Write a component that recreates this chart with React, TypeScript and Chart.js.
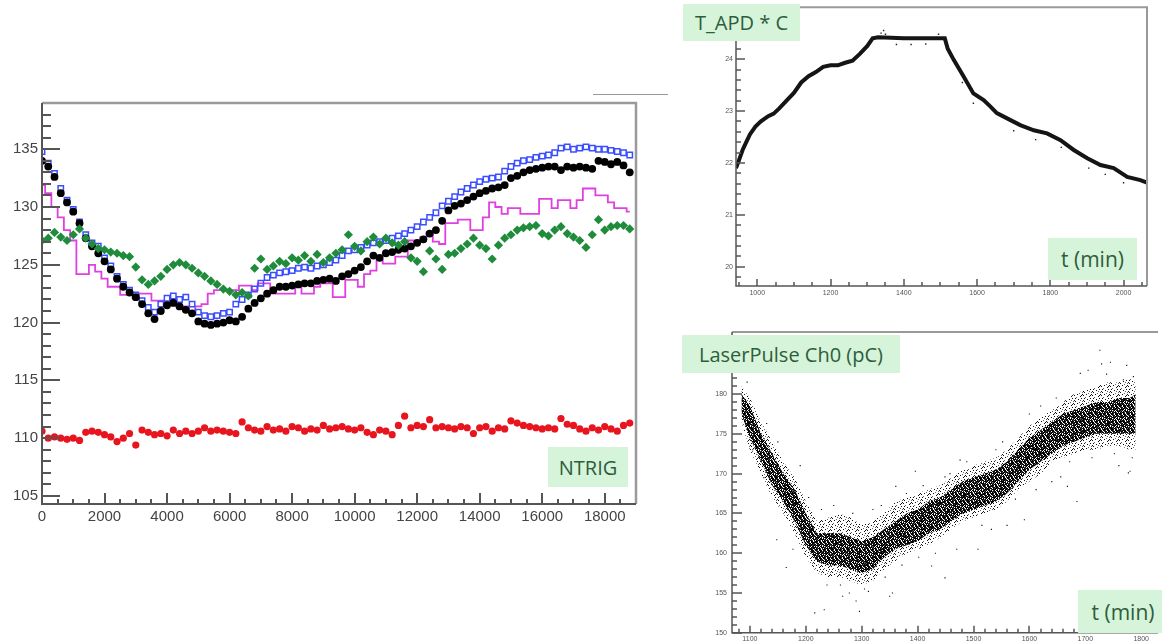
import React, { useEffect, useRef } from 'react';
import { Chart, registerables } from 'chart.js';
Chart.register(...registerables);

// ---------- Left chart (NTRIG) ----------
const BIN = 200; // sample spacing on x
const leftXTicks = [0, 2000, 4000, 6000, 8000, 10000, 12000, 14000, 16000, 18000];
const leftYTicks = [105, 110, 115, 120, 125, 130, 135];

const blackVals = [
  134.0, 133.5, 132.6, 131.2, 130.4, 129.6, 128.6, 127.3, 126.6, 126.0,
  125.3, 124.6, 123.8, 123.1, 122.6, 122.2, 121.6, 120.8, 120.3, 121.0,
  121.5, 121.7, 121.4, 121.1, 120.8, 120.1, 119.9, 119.8, 119.9, 120.0,
  120.2, 120.1, 120.5, 121.2, 121.7, 122.1, 122.5, 122.8, 123.1, 123.1,
  123.2, 123.3, 123.4, 123.4, 123.6, 123.7, 123.8, 123.6, 124.0, 124.2,
  124.5, 124.8, 125.3, 125.8, 125.6, 126.0, 126.1, 126.3, 126.4, 126.6,
  126.9, 127.2, 127.7, 128.0, 128.8, 129.7, 130.1, 130.3, 130.6, 130.9,
  131.2, 131.4, 131.6, 131.7, 131.9, 132.5, 132.7, 133.0, 133.2, 133.3,
  133.4, 133.5, 133.5, 133.2, 133.5, 133.4, 133.5, 133.4, 133.3, 134.0,
  133.9, 133.7, 133.9, 133.6, 133.0,
];
const blueVals = [
  134.8, 133.8, 132.9, 131.6, 130.6, 129.8, 128.7, 127.6, 126.9, 126.6,
  125.6, 124.9, 124.0, 123.3, 122.8, 122.4, 121.9, 121.3, 120.9, 121.6,
  122.1, 122.3, 122.0, 122.2, 121.6, 120.9, 120.6, 120.5, 120.6, 120.8,
  120.9, 121.6, 122.0, 122.4, 122.9, 123.4, 123.9, 124.1, 124.3, 124.4,
  124.5, 124.7, 124.8, 124.7, 124.9, 125.0, 125.2, 125.4, 125.8, 126.2,
  126.3, 126.5, 126.7, 126.9, 127.0, 127.1, 127.3, 127.5, 127.7, 128.0,
  128.3, 128.7, 129.1, 129.5, 130.1, 130.5, 130.9, 131.3, 131.6, 131.9,
  132.2, 132.4, 132.5, 132.6, 133.1, 133.5, 133.8, 134.0, 134.1, 134.3,
  134.4, 134.5, 134.7, 135.1, 135.2, 135.0, 135.1, 135.2, 135.1, 135.0,
  135.0, 134.9, 134.8, 134.7, 134.5,
];
const magentaVals = [
  131.9, 131.2, 130.0, 129.1, 128.0, 127.1, 124.2, 124.2, 125.0, 124.4,
  123.8, 123.1, 123.1, 122.4, 122.4, 122.1, 122.5, 122.5, 121.9, 121.9,
  121.6, 122.0, 121.4, 121.4, 120.9, 121.4, 121.6, 122.5, 122.8, 122.8,
  122.8, 122.8, 123.2, 123.2, 122.8, 123.4, 123.4, 122.5, 122.5, 122.5,
  122.5, 123.1, 122.5, 122.5, 123.1, 123.4, 123.4, 122.2, 122.2, 123.7,
  123.7, 123.1, 124.2, 124.5, 125.4, 125.1, 125.1, 125.7, 125.7, 127.1,
  127.0, 127.4, 127.8, 127.0, 126.8, 128.6, 128.6, 128.9, 128.9, 128.0,
  128.0, 129.1, 130.4, 130.0, 129.4, 129.9, 129.9, 129.4, 129.4, 129.4,
  130.7, 130.7, 129.9, 130.6, 130.6, 129.9, 130.6, 131.6, 131.6, 131.0,
  131.0, 130.4, 129.9, 129.9, 129.6,
];
const greenVals = [
  127.1, 127.3, 127.8, 127.4, 127.1, 127.6, 128.1, 127.3, 126.8, 126.4,
  126.3, 126.1, 126.0, 125.8, 125.7, 124.8, 123.7, 123.3, 123.6, 124.0,
  124.6, 125.0, 125.2, 125.0, 124.7, 124.3, 124.0, 123.6, 123.3, 122.9,
  122.7, 122.4, 122.6, 122.3, 124.7, 125.5, 124.6, 124.9, 125.3, 125.1,
  125.6, 125.4, 125.8, 125.3, 125.9, 125.2, 125.6, 126.0, 126.3, 127.6,
  126.6, 126.2, 127.0, 127.4, 126.8, 127.3, 126.9, 126.7, 127.0, 125.6,
  125.3, 124.4, 126.2, 125.5, 124.6, 125.9, 126.0, 126.4, 126.8, 127.3,
  126.7, 126.4, 125.5, 126.7, 127.3, 127.6, 128.0, 128.2, 128.3, 128.4,
  127.7, 127.5, 128.0, 128.3, 127.7, 127.4, 127.1, 126.5, 127.6, 128.9,
  128.0, 128.3, 128.4, 128.4, 128.1,
];
const redVals = [
  110.6, 110.0, 110.1, 110.0, 109.9, 110.0, 109.8, 110.5, 110.6, 110.5,
  110.3, 110.1, 109.7, 110.0, 110.4, 109.4, 110.7, 110.5, 110.3, 110.4,
  110.2, 110.7, 110.4, 110.6, 110.4, 110.6, 110.9, 110.6, 110.7, 110.6,
  110.5, 110.4, 111.4, 110.9, 110.7, 110.6, 111.0, 110.7, 110.8, 110.6,
  111.0, 110.9, 110.6, 110.8, 110.7, 111.1, 110.8, 110.9, 111.0, 110.8,
  110.7, 110.9, 110.5, 110.3, 110.7, 110.6, 110.3, 111.1, 111.9, 110.9,
  111.1, 111.0, 111.6, 110.9, 111.0, 110.9, 110.8, 111.0, 110.9, 110.4,
  110.9, 111.0, 110.6, 110.9, 110.8, 111.5, 111.3, 111.1, 111.0, 110.9,
  110.8, 110.9, 110.8, 111.7, 111.2, 111.1, 110.8, 110.6, 110.9, 110.7,
  111.0, 110.8, 110.6, 111.1, 111.3,
];

// ---------- Top-right chart (T_APD) ----------
const tempXTicks = [1000, 1200, 1400, 1600, 1800, 2000];
const tempYTicks = [20, 21, 22, 23, 24];
const tempX = [
  942, 950, 960, 970, 980, 995, 1010, 1030, 1045, 1060, 1080, 1100, 1120, 1140,
  1160, 1180, 1200, 1220, 1240, 1260, 1280, 1300, 1315, 1330, 1400, 1450, 1512,
  1520, 1536, 1563, 1590, 1618, 1636, 1654, 1690, 1718, 1755, 1791, 1828, 1864,
  1901, 1937, 1973, 2010, 2046, 2064,
];
const tempY = [
  21.9, 22.05, 22.25, 22.4, 22.55, 22.7, 22.8, 22.9, 22.95, 23.05, 23.2, 23.35, 23.55, 23.67,
  23.75, 23.85, 23.88, 23.88, 23.93, 23.97, 24.1, 24.25, 24.4, 24.42, 24.4, 24.4, 24.4,
  24.2, 23.99, 23.67, 23.34, 23.21, 23.09, 22.96, 22.83, 22.73, 22.63, 22.57, 22.44, 22.25,
  22.09, 21.96, 21.9, 21.73, 21.67, 21.62,
];
const tempOutX = [1338, 1345, 1350, 1380, 1420, 1460, 1495, 1560, 1590, 1700, 1760, 1830, 1905, 1950, 2000];
const tempOutY = [24.5, 24.55, 24.48, 24.28, 24.28, 24.29, 24.48, 23.55, 23.15, 22.62, 22.45, 22.3, 21.9, 21.78, 21.62];

// ---------- Bottom-right chart (LaserPulse) ----------
const pulseXTicks = [1100, 1200, 1300, 1400, 1500, 1600, 1700, 1800];
const pulseYTicks = [150, 155, 160, 165, 170, 175, 180];
const cloudX = [
  1085, 1100, 1120, 1140, 1160, 1180, 1200, 1220, 1240, 1260, 1280, 1300, 1320, 1340,
  1360, 1380, 1400, 1420, 1440, 1460, 1480, 1500, 1520, 1540, 1560, 1580, 1600, 1620,
  1640, 1660, 1680, 1700, 1720, 1740, 1760, 1780, 1790,
];
const coreHi = [
  180.0, 178.5, 175.0, 172.5, 170.0, 168.0, 165.0, 162.5, 162.5, 162.5, 162.0, 161.5, 162.0, 163.0,
  164.0, 165.0, 165.5, 166.5, 167.0, 168.0, 169.0, 169.5, 170.0, 170.5, 171.5, 173.0, 174.5, 175.5,
  176.5, 177.5, 178.0, 178.5, 179.0, 179.0, 179.5, 179.5, 180.0,
];
const coreLo = [
  177.5, 174.5, 171.5, 168.5, 166.5, 164.0, 161.0, 159.0, 158.5, 158.5, 158.0, 157.5, 158.0, 159.5,
  160.5, 161.0, 161.5, 162.5, 163.0, 164.0, 165.0, 165.5, 166.0, 166.5, 167.5, 169.0, 170.5, 171.5,
  172.5, 173.5, 174.0, 174.5, 175.0, 175.0, 175.0, 175.0, 175.0,
];
const outerHi = [
  181.0, 179.5, 176.5, 174.0, 171.5, 169.5, 166.5, 164.0, 164.5, 165.0, 164.5, 163.5, 164.0, 165.0,
  166.5, 167.0, 167.5, 168.0, 168.5, 169.5, 170.5, 171.0, 171.5, 172.0, 173.0, 174.5, 176.0, 177.0,
  178.0, 179.0, 180.0, 180.5, 181.0, 181.5, 181.5, 182.0, 181.5,
];
const outerLo = [
  176.5, 173.0, 170.0, 167.0, 165.0, 162.5, 159.5, 157.5, 157.0, 157.0, 156.5, 156.0, 156.5, 158.0,
  159.0, 160.0, 160.5, 161.0, 162.0, 163.0, 164.0, 164.5, 165.0, 165.5, 166.5, 168.0, 169.0, 170.0,
  171.5, 172.0, 172.5, 173.0, 173.0, 173.5, 173.5, 173.0, 173.0,
];
const outX = [
  1726, 1729, 1774, 1777, 1685, 1216, 1233, 1296, 1278, 1449, 1165, 1148, 1130, 1396, 1449, 1476,
  1361, 1656, 1668, 1591, 1532, 1508, 1425, 1355, 1350, 1266, 1177, 1780, 1691, 1786, 1600, 1640,
  1110, 1250, 1320, 1470, 1540, 1705, 1760, 1190, 1290, 1380, 1560, 1620, 1745,
  1095, 1105, 1125, 1150, 1205, 1228, 1262, 1305, 1335, 1372, 1410, 1432, 1488, 1515, 1552,
  1575, 1612, 1648, 1672, 1712, 1738, 1752, 1768, 1784, 1238, 1284, 1312, 1342, 1402, 1458,
];
const outY = [
  185.5, 183.8, 183.6, 170.1, 166.5, 152.5, 152.9, 152.7, 155.0, 156.9, 158.2, 161.7, 176.3, 170.3, 169.6, 171.7,
  168.4, 169.6, 168.4, 164.2, 163.0, 160.5, 158.4, 155.0, 154.6, 154.6, 160.5, 170.3, 182.6, 182.2, 177.5, 169.0,
  176.0, 166.0, 165.5, 160.5, 173.0, 183.0, 171.0, 171.0, 154.0, 167.5, 163.5, 178.5, 184.0,
  181.5, 173.0, 169.5, 174.0, 167.0, 165.5, 156.0, 155.5, 166.0, 158.5, 168.5, 160.0, 171.5, 163.5, 174.0,
  166.8, 168.0, 179.5, 171.5, 172.0, 182.5, 172.5, 181.8, 172.0, 156.0, 165.0, 155.2, 157.0, 159.5, 170.0,
];

// ---------- helpers ----------
const rootAxes = {
  id: 'rootAxes',
  afterDraw(chart: any, _a: any, o: any) {
    const ctx = chart.ctx;
    const a = chart.chartArea;
    const xs = chart.scales.x;
    const ys = chart.scales.y;
    const xMinor = Number(o.xMinor), xMajor = Number(o.xMajor);
    const yMinor = Number(o.yMinor), yMajor = Number(o.yMajor);
    const xMajLen = Number(o.xMajLen), xMinLen = Number(o.xMinLen);
    const yMajLen = Number(o.yMajLen), yMinLen = Number(o.yMinLen);
    const isMajor = (v: number, m: number) => Math.abs(v / m - Math.round(v / m)) < 1e-6;
    ctx.save();
    ctx.strokeStyle = String(o.tickColor);
    ctx.lineWidth = Number(o.tickWidth);
    const x0 = Math.ceil(xs.min / xMinor - 1e-9);
    const x1 = Math.floor(xs.max / xMinor + 1e-9);
    for (let i = x0; i <= x1; i++) {
      const v = i * xMinor;
      const px = Math.round(xs.getPixelForValue(v));
      const len = isMajor(v, xMajor) ? xMajLen : xMinLen;
      ctx.beginPath();
      ctx.moveTo(px, a.bottom);
      ctx.lineTo(px, a.bottom - len);
      ctx.stroke();
    }
    const y0 = Math.ceil(ys.min / yMinor - 1e-9);
    const y1 = Math.floor(ys.max / yMinor + 1e-9);
    for (let i = y0; i <= y1; i++) {
      const v = i * yMinor;
      const py = Math.round(ys.getPixelForValue(v));
      const len = isMajor(v, yMajor) ? yMajLen : yMinLen;
      ctx.beginPath();
      ctx.moveTo(a.left, py);
      ctx.lineTo(a.left + len, py);
      ctx.stroke();
    }
    ctx.strokeStyle = String(o.frameColor);
    ctx.lineWidth = Number(o.frameWidth);
    ctx.beginPath();
    ctx.moveTo(a.left, a.top);
    ctx.lineTo(a.right, a.top);
    if (o.right) ctx.lineTo(a.right, a.bottom);
    ctx.stroke();
    ctx.strokeStyle = String(o.axisColor);
    ctx.lineWidth = Number(o.axisWidth);
    ctx.beginPath();
    ctx.moveTo(a.left, a.top);
    ctx.lineTo(a.left, a.bottom);
    ctx.lineTo(a.right, a.bottom);
    ctx.stroke();
    ctx.restore();
  },
};

function scaleOpts(min: number, max: number, ticks: number[], fontSize: number, color: string, pad: number, fit: number, isX: boolean) {
  return {
    type: 'linear',
    position: isX ? 'bottom' : 'left',
    min,
    max,
    afterBuildTicks: (s: any) => { s.ticks = ticks.map((v) => ({ value: v })); },
    afterFit: (s: any) => { if (isX) s.height = fit; else s.width = fit; },
    grid: { display: false, drawTicks: false },
    border: { display: false },
    ticks: {
      autoSkip: false,
      maxRotation: 0,
      padding: pad,
      color,
      font: { family: '"Liberation Sans", Arial, sans-serif', size: fontSize },
      callback: (v: any) => String(v),
    },
  };
}

function makePattern(mask: string[], dark: string, mid: string) {
  const c = document.createElement('canvas');
  c.width = mask[0].length; c.height = mask.length;
  const g = c.getContext('2d')!;
  mask.forEach((row, y) => {
    for (let x = 0; x < row.length; x++) {
      if (row[x] === '#') { g.fillStyle = dark; g.fillRect(x, y, 1, 1); }
      else if (row[x] === '+') { g.fillStyle = mid; g.fillRect(x, y, 1, 1); }
    }
  });
  return g.createPattern(c, 'repeat');
}

function ChartCanvas({ left, top, width, height, make }: any) {
  const ref = useRef<HTMLCanvasElement>(null);
  useEffect(() => {
    const chart = new Chart(ref.current as HTMLCanvasElement, make());
    return () => chart.destroy();
  }, []);
  return (
    <canvas ref={ref} width={width} height={height}
      style={{ position: 'absolute', left, top, width, height, zIndex: 1 }} />
  );
}

const baseOpts = {
  responsive: false,
  animation: false,
  events: [],
};

function leftConfig(): any {
  const pts = (vals: number[]) => vals.map((y, i) => ({ x: i * BIN, y }));
  return {
    type: 'scatter',
    data: {
      datasets: [
        { label: 'green', data: pts(greenVals), pointStyle: 'rectRot', pointRadius: 4.6, backgroundColor: '#1f8c3b', borderColor: '#1f8c3b', borderWidth: 0, order: 0 },
        { label: 'black', data: pts(blackVals), pointStyle: 'circle', pointRadius: 3.9, backgroundColor: '#000', borderColor: '#000', borderWidth: 0, order: 1 },
        { label: 'blue', data: pts(blueVals), pointStyle: 'rect', pointRadius: 3.8, backgroundColor: 'rgba(0,0,0,0)', borderColor: '#3a4dff', borderWidth: 1.5, order: 2 },
        { label: 'magenta', data: pts(magentaVals), showLine: true, stepped: 'middle', pointRadius: 0, borderColor: '#e040e0', borderWidth: 1.8, order: 3 },
        { label: 'red', data: pts(redVals), pointStyle: 'circle', pointRadius: 3.6, backgroundColor: '#e8141e', borderColor: '#e8141e', borderWidth: 0, order: 4 },
      ],
    },
    options: {
      ...baseOpts,
      layout: { padding: { top: 12, right: 24, left: 0, bottom: 0 } },
      scales: {
        x: scaleOpts(0, 19000, leftXTicks, 15, '#444', 4, 26, true),
        y: scaleOpts(104.3, 139, leftYTicks, 15, '#444', 4, 42, false),
      },
      plugins: {
        legend: { display: false },
        tooltip: { enabled: false },
        rootAxes: {
          xMinor: 500, xMajor: 2000, yMinor: 1, yMajor: 5,
          xMajLen: 11, xMinLen: 5, yMajLen: 18, yMinLen: 9,
          tickColor: '#555', tickWidth: 2, axisColor: '#555', axisWidth: 2,
          frameColor: '#9a9a9a', frameWidth: 2.5, right: true,
        },
      },
    },
    plugins: [rootAxes],
  };
}

function tempConfig(): any {
  return {
    type: 'scatter',
    data: {
      datasets: [
        { data: tempX.map((x, i) => ({ x, y: tempY[i] })), showLine: true, pointRadius: 0, borderColor: '#151515', borderWidth: 4, tension: 0 },
        { data: tempOutX.map((x, i) => ({ x, y: tempOutY[i] })), pointStyle: 'rect', pointRadius: 1, backgroundColor: '#222', borderWidth: 0 },
      ],
    },
    options: {
      ...baseOpts,
      layout: { padding: { top: 7, right: 15, left: 0, bottom: 0 } },
      scales: {
        x: scaleOpts(942, 2064, tempXTicks, 7, '#555', 3, 14, true),
        y: scaleOpts(19.63, 25.0, tempYTicks, 7, '#555', 3, 56, false),
      },
      plugins: {
        legend: { display: false },
        tooltip: { enabled: false },
        rootAxes: {
          xMinor: 50, xMajor: 200, yMinor: 0.2, yMajor: 1,
          xMajLen: 7, xMinLen: 4, yMajLen: 9, yMinLen: 5,
          tickColor: '#555', tickWidth: 1.5, axisColor: '#555', axisWidth: 1.5,
          frameColor: '#999', frameWidth: 2, right: true,
        },
      },
    },
    plugins: [rootAxes],
  };
}

function pulseConfig(): any {
  const corePat = makePattern([
    '#+##.#+#',
    '.#.+####',
    '##.#.+#.',
    '.###+#.#',
    '+.#.#+##',
    '#.+###.#',
    '##.##+.#',
    '##+.+##.',
  ], '#000', '#444');
  const outerPat = makePattern([
    '.#......+',
    '.....+...',
    '...#....#',
    '#......#.',
    '......#..',
    '..+......',
    '.#.....#.',
    '....#....',
    '#.....+..',
  ], '#111', '#666');
  const band = (vals: number[]) => cloudX.map((x, i) => ({ x, y: vals[i] }));
  return {
    type: 'line',
    data: {
      datasets: [
        { data: outX.map((x, i) => ({ x, y: outY[i] })), showLine: false, pointStyle: 'rect', pointRadius: 0.8, backgroundColor: '#111', borderWidth: 0, order: 0 },
        { data: band(coreHi), fill: '+1', backgroundColor: corePat, borderWidth: 0, pointRadius: 0, order: 1 },
        { data: band(coreLo), fill: false, borderWidth: 0, pointRadius: 0, order: 2 },
        { data: band(outerHi), fill: '+1', backgroundColor: outerPat, borderWidth: 0, pointRadius: 0, order: 3 },
        { data: band(outerLo), fill: false, borderWidth: 0, pointRadius: 0, order: 4 },
      ],
    },
    options: {
      ...baseOpts,
      layout: { padding: { top: 12, right: 0, left: 0, bottom: 0 } },
      scales: {
        x: scaleOpts(1068, 1830, pulseXTicks, 7, '#555', 2, 9, true),
        y: scaleOpts(150, 187.8, pulseYTicks, 7, '#555', 5, 72, false),
      },
      plugins: {
        legend: { display: false },
        tooltip: { enabled: false },
        rootAxes: {
          xMinor: 20, xMajor: 100, yMinor: 1, yMajor: 5,
          xMajLen: 7, xMinLen: 4, yMajLen: 10, yMinLen: 5,
          tickColor: '#555', tickWidth: 1.5, axisColor: '#555', axisWidth: 1.5,
          frameColor: '#999', frameWidth: 2, right: false,
        },
      },
    },
    plugins: [rootAxes],
  };
}

const boxStyle = (left: number, top: number, width: number, height: number, fontSize: number): React.CSSProperties => ({
  position: 'absolute', left, top, width, height, zIndex: 2,
  background: '#d5f4da', color: '#2f5d3b',
  fontFamily: '"Open Sans", "Noto Sans", sans-serif', fontSize,
  display: 'flex', alignItems: 'center', justifyContent: 'center', whiteSpace: 'nowrap',
});

export default function App() {
  return (
    <div style={{ position: 'fixed', left: 0, top: 0, width: 1162, height: 642, background: '#fff', overflow: 'hidden' }}>
      <ChartCanvas left={0} top={90} width={660} height={440} make={leftConfig} />
      <ChartCanvas left={680} top={0} width={482} height={300} make={tempConfig} />
      <ChartCanvas left={660} top={320} width={502} height={322} make={pulseConfig} />
      <div style={{ position: 'absolute', left: 593, top: 94, width: 75, height: 1, background: '#999' }} />
      <div style={boxStyle(548, 447, 80, 40, 20)}>NTRIG</div>
      <div style={boxStyle(683, 4, 117, 37, 20)}>T_APD * C</div>
      <div style={boxStyle(1048, 238, 89, 42, 21)}>t (min)</div>
      <div style={boxStyle(682, 335, 218, 38, 20)}>LaserPulse Ch0 (pC)</div>
      <div style={boxStyle(1078, 590, 90, 43, 21)}>t (min)</div>
    </div>
  );
}
